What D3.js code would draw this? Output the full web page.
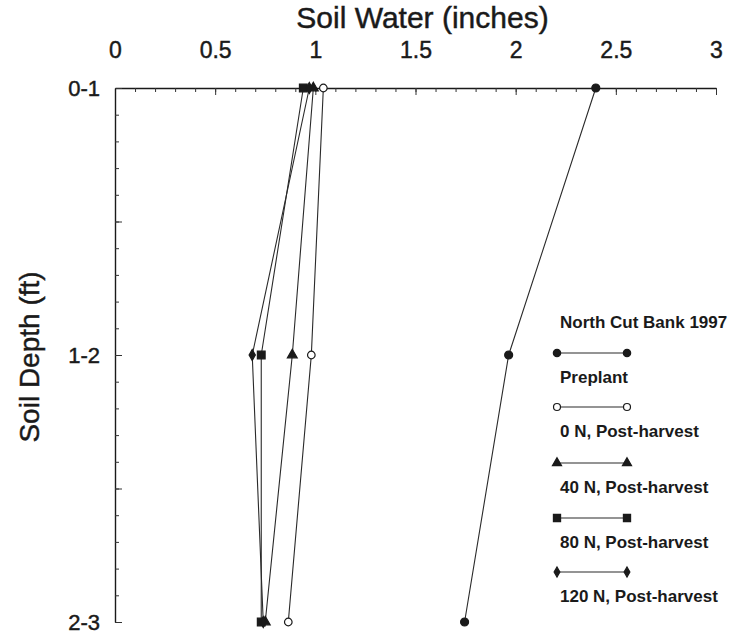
<!DOCTYPE html>
<html>
<head>
<meta charset="utf-8">
<script src="https://cdn.jsdelivr.net/npm/d3@7"></script>
<style>
  body { margin: 0; background: #fff; }
  svg text { font-family: "Liberation Sans", Arial, Helvetica, sans-serif; fill: #1a1a1a; }
  .heavy { stroke: #1a1a1a; stroke-width: 0.45px; }
</style>
</head>
<body>
<svg id="chart" width="734" height="640"></svg>
<script>
'use strict';

/*
    soil water by depth, north cut bank 1997
*/

var depths = ['0-1', '1-2', '2-3'];
var xTicks = [0, 0.5, 1, 1.5, 2, 2.5, 3];

var preplant = [2.4, 1.965, 1.745];
var n0 = [1.04, 0.98, 0.865];
var n40 = [0.99, 0.885, 0.75];
var n80 = [0.94, 0.73, 0.73];
var n120 = [0.97, 0.685, 0.74];

var seriesNames = ['Preplant', '0 N, Post-harvest', '40 N, Post-harvest', '80 N, Post-harvest', '120 N, Post-harvest'];

var series = [
    { name: seriesNames[0], values: preplant, symbol: d3.symbolCircle, size: 50, fill: '#1a1a1a' },
    { name: seriesNames[1], values: n0, symbol: d3.symbolCircle, size: 45, fill: '#fff' },
    { name: seriesNames[2], values: n40, symbol: d3.symbolTriangle, size: 42, fill: '#1a1a1a' },
    { name: seriesNames[3], values: n80, symbol: d3.symbolSquare, size: 60, fill: '#1a1a1a' },
    { name: seriesNames[4], values: n120, symbol: d3.symbolDiamond, size: 34, fill: '#1a1a1a' }
];

var svg = d3.select('#chart');

var x = d3.scaleLinear().domain([0, 3]).range([115, 716]);
var y = d3.scaleLinear().domain([0, 2]).range([88, 622]);

var minorX = d3.range(0, 31).map(function(d) { return d / 10; });
var minorY = d3.range(0, 21).map(function(d) { return d / 10; });

/* top axis - minor ticks then major ones with labels */
svg.append('g')
    .attr('transform', 'translate(0,' + y(0) + ')')
    .call(d3.axisTop(x).tickValues(minorX).tickSize(-4).tickSizeOuter(0).tickFormat(''))
    .call(function(g) {
        g.select('.domain').attr('stroke', '#1a1a1a').attr('stroke-width', 1.4);
        g.selectAll('.tick line').attr('stroke', '#333');
    });

svg.append('g')
    .attr('transform', 'translate(0,' + y(0) + ')')
    .call(d3.axisTop(x).tickValues(xTicks).tickSize(-7).tickSizeOuter(0).tickPadding(30)
        .tickFormat(function(d) { return d; }))
    .call(function(g) {
        g.select('.domain').remove();
        g.selectAll('.tick line').attr('stroke', '#333');
        g.selectAll('.tick text').attr('font-size', 23).attr('fill', '#1a1a1a').attr('class', 'heavy');
    });

/* left axis */
svg.append('g')
    .attr('transform', 'translate(' + x(0) + ',0)')
    .call(d3.axisLeft(y).tickValues(minorY).tickSize(-4).tickSizeOuter(0).tickFormat(''))
    .call(function(g) {
        g.select('.domain').attr('stroke', '#1a1a1a').attr('stroke-width', 1.4);
        g.selectAll('.tick line').attr('stroke', '#333');
    });

svg.append('g')
    .attr('transform', 'translate(' + x(0) + ',0)')
    .call(d3.axisLeft(y).tickValues([0, 0.5, 1, 1.5, 2]).tickSize(-7).tickSizeOuter(0).tickPadding(15)
        .tickFormat(function(d) { return Number.isInteger(d) ? depths[d] : ''; }))
    .call(function(g) {
        g.select('.domain').remove();
        g.selectAll('.tick line').attr('stroke', '#333');
        g.selectAll('.tick text').attr('font-size', 22).attr('fill', '#1a1a1a').attr('class', 'heavy');
    });

/* titles */
svg.append('text')
    .attr('class', 'heavy')
    .attr('x', (x(0) + x(3)) / 2 + 7)
    .attr('y', 28)
    .attr('text-anchor', 'middle')
    .attr('font-size', 30)
    .text('Soil Water (inches)');

svg.append('text')
    .attr('class', 'heavy')
    .attr('transform', 'translate(39,' + (y(1) + 2) + ') rotate(-90)')
    .attr('text-anchor', 'middle')
    .attr('font-size', 28)
    .text('Soil Depth (ft)');

/* lines and markers */
var line = d3.line()
    .x(function(d) { return x(d); })
    .y(function(d, i) { return y(i); });

var groups = svg.selectAll('.series')
    .data(series)
    .enter().append('g')
    .attr('class', 'series');

groups.append('path')
    .attr('d', function(s) { return line(s.values); })
    .attr('fill', 'none')
    .attr('stroke', '#2a2a2a')
    .attr('stroke-width', 1.1);

groups.each(function(s) {
    d3.select(this).selectAll('path.mark')
        .data(s.values)
        .enter().append('path')
        .attr('class', 'mark')
        .attr('transform', function(d, i) { return 'translate(' + x(d) + ',' + y(i) + ')'; })
        .attr('d', d3.symbol().type(s.symbol).size(s.size))
        .attr('fill', s.fill)
        .attr('stroke', '#1a1a1a')
        .attr('stroke-width', 1.2);
});

/* legend */
var legend = svg.append('g').attr('transform', 'translate(557,0)');

legend.append('text')
    .attr('x', 3)
    .attr('y', 328)
    .attr('font-size', 17)
    .attr('font-weight', 'bold')
    .text('North Cut Bank 1997');

var rowY = [353, 407, 463, 518, 572];

var rows = legend.selectAll('.row')
    .data(series)
    .enter().append('g')
    .attr('class', 'row')
    .attr('transform', function(s, i) { return 'translate(0,' + rowY[i] + ')'; });

rows.append('line')
    .attr('x1', 0).attr('x2', 70)
    .attr('stroke', '#2a2a2a')
    .attr('stroke-width', 1.1);

rows.each(function(s) {
    d3.select(this).selectAll('path')
        .data([0, 70])
        .enter().append('path')
        .attr('transform', function(d) { return 'translate(' + d + ',0)'; })
        .attr('d', d3.symbol().type(s.symbol).size(s.size * 0.85))
        .attr('fill', s.fill)
        .attr('stroke', '#1a1a1a')
        .attr('stroke-width', 1.2);
});

rows.append('text')
    .attr('x', 3)
    .attr('y', 30)
    .attr('font-size', 17)
    .attr('font-weight', 'bold')
    .text(function(s) { return s.name; });
</script>
</body>
</html>
